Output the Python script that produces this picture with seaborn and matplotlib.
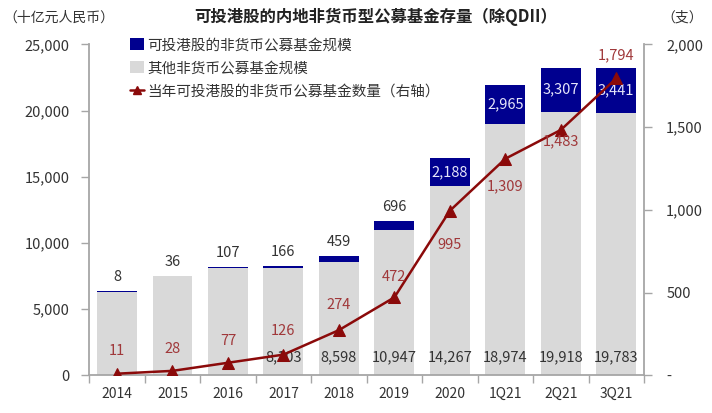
import numpy as np
import pandas as pd
import seaborn as sns
import matplotlib.pyplot as plt
from matplotlib.patches import Patch
from matplotlib.lines import Line2D

# data
periods = ['2014', '2015', '2016', '2017', '2018', '2019', '2020', '1Q21', '2Q21', '3Q21']
hk_scale = [8, 36, 107, 166, 459, 696, 2188, 2965, 3307, 3441]          # 可投港股 (十亿元)
other_scale = [6340, 7480, 8080, 8103, 8598, 10947, 14267, 18974, 19918, 19783]  # 其他
fund_count = [11, 28, 77, 126, 274, 472, 995, 1309, 1483, 1794]        # 数量 (支), right axis

# only these gray values are printed in the chart
other_labeled = [False, False, False, True, True, True, True, True, True, True]
# blue labels drawn inside the bar (white) for the big ones
hk_inside = [False, False, False, False, False, False, True, True, True, True]

df = pd.DataFrame({'period': periods, 'hk': hk_scale, 'other': other_scale,
                   'count': fund_count})
df['total'] = df['hk'] + df['other']

NAVY = '#00008F'
GRAY = '#D9D9D9'
RED = '#8B0A0A'
RED_TXT = '#A0383A'
TXT = '#333333'
SPINE = '#A6A6A6'

sns.set_theme(style='white')
plt.rcParams['font.family'] = ['Noto Sans CJK SC', 'DejaVu Sans']
plt.rcParams['axes.unicode_minus'] = False

fig = plt.figure(figsize=(7.12, 4.13), dpi=100)
ax = fig.add_axes([0.1254, 0.0908, 0.7791, 0.8019])

# stacked bars: total in navy, gray on top of it
sns.barplot(data=df, x='period', y='total', color=NAVY, width=0.72, saturation=1,
            ax=ax, order=periods, linewidth=0, edgecolor='none')
sns.barplot(data=df, x='period', y='other', color=GRAY, width=0.72, saturation=1,
            ax=ax, order=periods, linewidth=0, edgecolor='none')

ax.set_xlim(-0.5, 9.5)
ax.set_ylim(0, 25000)
ax.set_yticks(np.arange(0, 25001, 5000))
ax.set_yticklabels([f'{v:,}' for v in range(0, 25001, 5000)])
ax.set_xlabel('')
ax.set_ylabel('')

# bar labels
for i in range(len(periods)):
    tot = df['total'][i]
    if hk_inside[i]:
        ax.text(i, other_scale[i] + hk_scale[i] / 2, f'{hk_scale[i]:,}', ha='center',
                va='center', color='#E6E6FA', fontsize=10.5)
    else:
        ax.annotate(f'{hk_scale[i]:,}', (i, tot), xytext=(0, 5), textcoords='offset points',
                    ha='center', va='bottom', color=TXT, fontsize=10.5)
    if other_labeled[i]:
        ax.text(i, 1350, f'{other_scale[i]:,}', ha='center', va='center', color=TXT,
                fontsize=10.5)

# line on right axis
ax2 = ax.twinx()
sns.lineplot(x=np.arange(len(periods)), y=fund_count, ax=ax2, color=RED, lw=1.8,
             marker='^', markersize=8, markeredgecolor=RED, sort=False)
ax2.set_ylim(0, 2000)
ax2.set_xlim(-0.5, 9.5)
ax2.set_yticks([0, 500, 1000, 1500, 2000])
ax2.set_yticklabels(['-', '500', '1,000', '1,500', '2,000'])

# label offsets (points) for the count labels
count_offsets = [(0, 16), (0, 16), (0, 16), (0, 17), (0, 18), (0, 15), (0, -25), (0, -20),
                 (0, -8), (0, 17)]
for i, v in enumerate(fund_count):
    ax2.annotate(f'{v:,}', (i, v), xytext=count_offsets[i], textcoords='offset points',
                 ha='center', va='center', color=RED_TXT, fontsize=10.5)

# axes styling
for a in (ax, ax2):
    a.spines['top'].set_visible(False)
    for s in ('left', 'right', 'bottom'):
        a.spines[s].set_color(SPINE)
        a.spines[s].set_linewidth(1.3)
ax.spines['right'].set_visible(False)
ax2.spines['left'].set_visible(False)
ax2.spines['bottom'].set_visible(False)

ax.tick_params(axis='y', which='major', left=True, length=6, width=1, color=SPINE,
               labelsize=10.5, labelcolor=TXT, pad=8)
ax2.tick_params(axis='y', which='major', right=True, length=6, width=1, color=SPINE,
                labelsize=10.5, labelcolor=TXT, pad=10)
ax.set_xticks(np.arange(len(periods)))
ax.set_xticklabels(periods)
ax.tick_params(axis='x', which='major', length=0, labelsize=10, labelcolor=TXT, pad=8)
ax.set_xticks(np.arange(-0.5, 10, 1), minor=True)
ax.tick_params(axis='x', which='minor', bottom=True, length=6, width=1, color=SPINE)
ax.set_zorder(ax2.get_zorder() - 1)
ax2.patch.set_visible(False)

# titles
fig.text(0.528, 0.958, '可投港股的内地非货币型公募基金存量（除QDII）', ha='center', va='center',
         fontsize=11.8, fontweight='bold', color='#222222')
fig.text(0.083, 0.958, '（十亿元人民币）', ha='center', va='center', fontsize=10, color=TXT)
fig.text(0.958, 0.958, '（支）', ha='center', va='center', fontsize=10, color=TXT)

# legend
handles = [Patch(facecolor=NAVY, edgecolor='none'),
           Patch(facecolor=GRAY, edgecolor='none'),
           Line2D([0], [0], color=RED, lw=1.8, marker='^', markersize=6)]
labels = ['可投港股的非货币公募基金规模', '其他非货币公募基金规模', '当年可投港股的非货币公募基金数量（右轴）']
fig.legend(handles, labels, loc='upper left', bbox_to_anchor=(0.172, 0.925), frameon=False,
           fontsize=10.5, handlelength=1.0, handleheight=0.9, handletextpad=0.2,
           labelspacing=0.62, labelcolor=TXT, borderpad=0)

fig.savefig('out.png', dpi=100)
